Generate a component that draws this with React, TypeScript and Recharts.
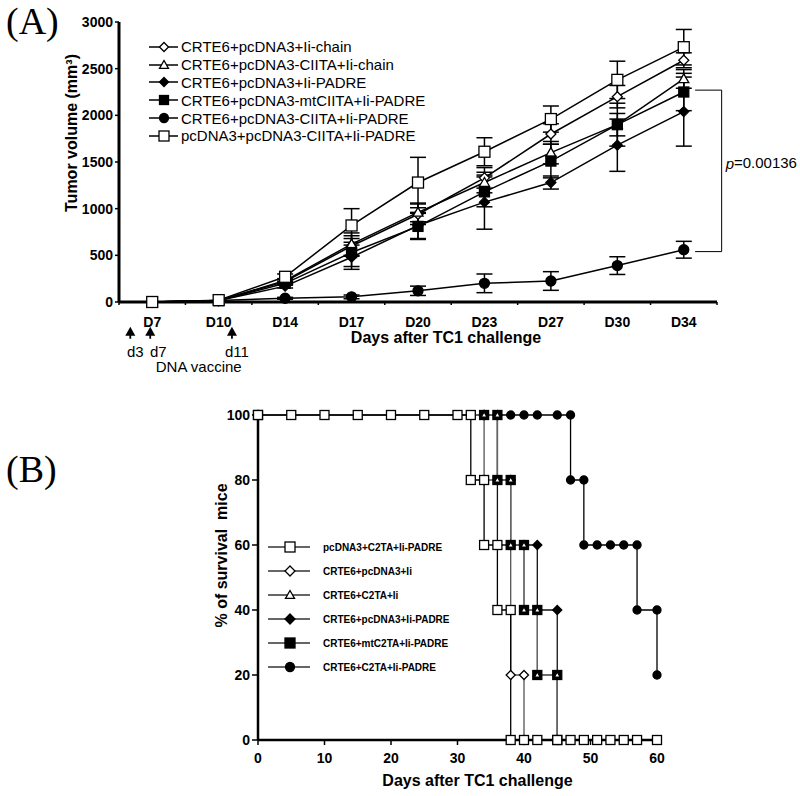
import {
  LineChart,
  Line,
  XAxis,
  YAxis,
  ErrorBar,
  Legend,
  ReferenceLine,
  ReferenceDot,
} from "recharts";

const FONT = "Arial, 'Liberation Sans', Helvetica, sans-serif";
const SERIF = "'Times New Roman', 'Liberation Serif', serif";

// ---- Panel A: tumor volume ----
const DAY_LABELS = ["D7", "D10", "D14", "D17", "D20", "D23", "D27", "D30", "D34"];
const DAY_TICKS = [-0.5, 0, 0.5, 1, 1.5, 2, 2.5, 3, 3.5, 4, 4.5, 5, 5.5, 6, 6.5, 7, 7.5, 8, 8.5];

const A_IICHAIN = [0, 15, 220, 600, 940, 1330, 1800, 2200, 2590];
const A_IICHAIN_ERR = [0, 0, 20, 110, 110, 110, 110, 120, 80];
const A_CIITA_IICHAIN = [0, 15, 230, 620, 960, 1280, 1600, 1900, 2390];
const A_CIITA_IICHAIN_ERR = [0, 0, 20, 120, 100, 110, 120, 120, 100];
const A_IIPADRE = [0, 15, 170, 480, 820, 1070, 1280, 1680, 2040];
const A_IIPADRE_ERR = [0, 0, 20, 130, 140, 290, 70, 280, 370];
const A_MTCIITA = [0, 15, 200, 530, 810, 1180, 1510, 1900, 2250];
const A_MTCIITA_ERR = [0, 0, 20, 150, 140, 160, 180, 230, 200];
const A_CIITA_PADRE = [0, 15, 40, 55, 120, 200, 225, 390, 560];
const A_CIITA_PADRE_ERR = [0, 0, 10, 20, 50, 100, 100, 95, 90];
const A_PCDNA = [0, 20, 270, 820, 1280, 1610, 1960, 2380, 2730];
const A_PCDNA_ERR = [0, 0, 30, 180, 270, 150, 140, 200, 190];

const A_Y_TICKS = [0, 500, 1000, 1500, 2000, 2500, 3000];

// bracket between the two groups at D34
const BRACKET_X = [8.17, 8.57];
const BRACKET_Y = [2270, 540];
const P_TEXT = "=0.00136";

// vaccination arrows under the axis
const VACCINE_DAYS = ["d3", "d7", "d11"];
const VACCINE_AT = [-0.33, -0.03, 1.2];
const VACCINE_TEXT_SHIFT = [5, 8, 5];
const VACCINE_NAME = "DNA vaccine";

// ---- Panel B: survival ----
const B_SQ_DAYS = [0, 5, 10, 15, 20, 25, 30, 32, 32, 34, 34, 36, 36, 38, 38, 40, 42, 45, 47, 49, 51, 53, 55, 57, 60];
const B_SQ_PCT = [100, 100, 100, 100, 100, 100, 100, 100, 80, 80, 60, 60, 40, 40, 0, 0, 0, 0, 0, 0, 0, 0, 0, 0, 0];
const B_DIA_DAYS = [0, 34, 34, 36, 38, 38, 40, 40];
const B_DIA_PCT = [100, 100, 80, 80, 80, 20, 20, 0];
const B_TRI_DAYS = [0, 34, 36, 36, 38, 38, 40, 40, 42, 42, 45, 45];
const B_TRI_PCT = [100, 100, 100, 80, 80, 60, 60, 40, 40, 20, 20, 0];
const B_FDIA_DAYS = [0, 34, 36, 36, 38, 40, 42, 42, 45, 45];
const B_FDIA_PCT = [100, 100, 100, 60, 60, 60, 60, 40, 40, 0];
const B_MT_DAYS = [0, 34, 36, 36, 38, 38, 40, 40, 42, 42, 45, 45];
const B_MT_PCT = [100, 100, 100, 80, 80, 60, 60, 40, 40, 20, 20, 0];
const B_CIRC_DAYS = [0, 34, 36, 38, 40, 42, 45, 47, 47, 49, 49, 51, 53, 55, 57, 57, 60, 60];
const B_CIRC_PCT = [100, 100, 100, 100, 100, 100, 100, 100, 80, 80, 60, 60, 60, 60, 60, 40, 40, 20];

const B_X_TICKS = [0, 10, 20, 30, 40, 50, 60];
const B_Y_TICKS = [0, 20, 40, 60, 80, 100];

type Shape = "square" | "diamond" | "triangle" | "circle";

function Mark({ cx, cy, shape, filled, size }: { cx: number; cy: number; shape: Shape; filled: boolean; size: number }) {
  if (cx == null || cy == null) return null;
  const fill = filled ? "#000" : "#fff";
  const h = size / 2;
  const sw = 1.3;
  if (shape === "square")
    return <rect x={cx - h} y={cy - h} width={size} height={size} fill={fill} stroke="#000" strokeWidth={sw} />;
  if (shape === "diamond")
    return (
      <polygon
        points={`${cx},${cy - h} ${cx + h},${cy} ${cx},${cy + h} ${cx - h},${cy}`}
        fill={fill}
        stroke="#000"
        strokeWidth={sw}
      />
    );
  if (shape === "triangle")
    return (
      <polygon
        points={`${cx},${cy - h} ${cx + h},${cy + h * 0.75} ${cx - h},${cy + h * 0.75}`}
        fill={fill}
        stroke="#000"
        strokeWidth={sw}
      />
    );
  return <circle cx={cx} cy={cy} r={h} fill={fill} stroke="#000" strokeWidth={sw} />;
}

const A_SERIES = [
  { key: "a1", name: "CRTE6+pcDNA3+Ii-chain", values: A_IICHAIN, err: A_IICHAIN_ERR, shape: "diamond" as Shape, filled: false, size: 10 },
  { key: "a2", name: "CRTE6+pcDNA3-CIITA+Ii-chain", values: A_CIITA_IICHAIN, err: A_CIITA_IICHAIN_ERR, shape: "triangle" as Shape, filled: false, size: 10 },
  { key: "a3", name: "CRTE6+pcDNA3+Ii-PADRE", values: A_IIPADRE, err: A_IIPADRE_ERR, shape: "diamond" as Shape, filled: true, size: 10 },
  { key: "a4", name: "CRTE6+pcDNA3-mtCIITA+Ii-PADRE", values: A_MTCIITA, err: A_MTCIITA_ERR, shape: "square" as Shape, filled: true, size: 10 },
  { key: "a5", name: "CRTE6+pcDNA3-CIITA+Ii-PADRE", values: A_CIITA_PADRE, err: A_CIITA_PADRE_ERR, shape: "circle" as Shape, filled: true, size: 10 },
  { key: "a6", name: "pcDNA3+pcDNA3-CIITA+Ii-PADRE", values: A_PCDNA, err: A_PCDNA_ERR, shape: "square" as Shape, filled: false, size: 11 },
];

const A_ROWS = DAY_LABELS.map((_, i) => {
  const row: Record<string, number> = { idx: i };
  A_SERIES.forEach((s) => {
    row[s.key] = s.values[i];
    row[s.key + "e"] = s.err[i];
  });
  return row;
});

const toPoints = (days: number[], pct: number[]) => days.map((d, i) => ({ day: d, pct: pct[i] }));

// legend order
const B_LEGEND = [
  { key: "sq", name: "pcDNA3+C2TA+Ii-PADRE", shape: "square" as Shape, filled: false, size: 9 },
  { key: "dia", name: "CRTE6+pcDNA3+Ii", shape: "diamond" as Shape, filled: false, size: 9 },
  { key: "tri", name: "CRTE6+C2TA+Ii", shape: "triangle" as Shape, filled: false, size: 8 },
  { key: "fdia", name: "CRTE6+pcDNA3+Ii-PADRE", shape: "diamond" as Shape, filled: true, size: 9 },
  { key: "mt", name: "CRTE6+mtC2TA+Ii-PADRE", shape: "square" as Shape, filled: true, size: 9 },
  { key: "circ", name: "CRTE6+C2TA+Ii-PADRE", shape: "circle" as Shape, filled: true, size: 8 },
];

// drawing order (open squares on top, triangles over the black squares)
const B_SERIES = [
  { key: "circ", data: toPoints(B_CIRC_DAYS, B_CIRC_PCT), shape: "circle" as Shape, filled: true, size: 8, color: "#000" },
  { key: "fdia", data: toPoints(B_FDIA_DAYS, B_FDIA_PCT), shape: "diamond" as Shape, filled: true, size: 9, color: "#111" },
  { key: "dia", data: toPoints(B_DIA_DAYS, B_DIA_PCT), shape: "diamond" as Shape, filled: false, size: 9, color: "#555" },
  { key: "mt", data: toPoints(B_MT_DAYS, B_MT_PCT), shape: "square" as Shape, filled: true, size: 9, color: "#666" },
  { key: "tri", data: toPoints(B_TRI_DAYS, B_TRI_PCT), shape: "triangle" as Shape, filled: false, size: 6, color: "#666" },
  { key: "sq", data: toPoints(B_SQ_DAYS, B_SQ_PCT), shape: "square" as Shape, filled: false, size: 9, color: "#000" },
];

// offsets use custom prop names so Recharts' Label defaults do not override them
function AxisTitle(props: any) {
  const { viewBox, text, ox = 0, oy = 0, rot = 0, size = 16 } = props;
  if (!viewBox) return null;
  const cx = viewBox.x + viewBox.width / 2 + ox;
  const cy = viewBox.y + viewBox.height / 2 + oy;
  return (
    <text
      x={cx}
      y={cy}
      textAnchor="middle"
      dominantBaseline="central"
      transform={rot ? `rotate(${rot} ${cx} ${cy})` : undefined}
      style={{ whiteSpace: "pre" }}
      fontFamily={FONT}
      fontWeight="bold"
      fontSize={size}
      fill="#000"
    >
      {text}
    </text>
  );
}

function DayTick(props: any) {
  const { x, y, payload } = props;
  const v = payload.value;
  if (Number.isInteger(v)) {
    return (
      <text x={x} y={y + 25} textAnchor="middle" fontFamily={FONT} fontWeight="bold" fontSize={14} fill="#000">
        {DAY_LABELS[v]}
      </text>
    );
  }
  return <line x1={x} x2={x} y1={y} y2={y + 3} stroke="#000" strokeWidth={1.5} />;
}

function PLabel(props: any) {
  const { viewBox } = props;
  if (!viewBox) return null;
  return (
    <text
      x={viewBox.x + 4}
      y={viewBox.y + viewBox.height / 2 - 8}
      dominantBaseline="central"
      fontFamily={FONT}
      fontSize={15}
      fill="#000"
    >
      <tspan fontStyle="italic">p</tspan>
      {P_TEXT}
    </text>
  );
}

function VaccineArrow(props: any) {
  const { cx, cy, text, shift } = props;
  return (
    <g>
      <polygon points={`${cx},${cy} ${cx - 5},${cy + 9} ${cx + 5},${cy + 9}`} fill="#000" />
      <line x1={cx} x2={cx} y1={cy + 8} y2={cy + 12} stroke="#000" strokeWidth={1.8} />
      <text x={cx + shift} y={cy + 30} textAnchor="middle" fontFamily={FONT} fontSize={15} fill="#000">
        {text}
      </text>
    </g>
  );
}

function VaccineName(props: any) {
  const { cx, cy } = props;
  return (
    <text x={cx} y={cy + 45} textAnchor="middle" fontFamily={FONT} fontSize={15} fill="#000">
      {VACCINE_NAME}
    </text>
  );
}

function LegendA() {
  return (
    <div style={{ fontFamily: FONT, fontSize: 15, color: "#000" }}>
      {A_SERIES.map((s) => (
        <div key={s.key} style={{ display: "flex", alignItems: "center", height: 17.8 }}>
          <svg width={32} height={14} style={{ display: "block" }}>
            <line x1={0} x2={29} y1={7} y2={7} stroke="#000" strokeWidth={1.5} />
            <Mark cx={15} cy={7} shape={s.shape} filled={s.filled} size={s.size - 1} />
          </svg>
          <span style={{ whiteSpace: "nowrap" }}>{s.name}</span>
        </div>
      ))}
    </div>
  );
}

function LegendB() {
  return (
    <div style={{ fontFamily: FONT, fontSize: 10, fontWeight: "bold", color: "#000" }}>
      {B_LEGEND.map((s) => (
        <div key={s.key} style={{ display: "flex", alignItems: "center", height: 24 }}>
          <svg width={55} height={14} style={{ display: "block" }}>
            <line x1={0} x2={42} y1={7} y2={7} stroke="#333" strokeWidth={1.3} />
            <Mark cx={22} cy={7} shape={s.shape} filled={s.filled} size={s.size + 1} />
          </svg>
          <span style={{ whiteSpace: "nowrap" }}>{s.name}</span>
        </div>
      ))}
    </div>
  );
}

function PanelA() {
  return (
    <LineChart width={800} height={380} data={A_ROWS} margin={{ top: 22, right: 83, left: 0, bottom: 0 }}>
      <XAxis
        dataKey="idx"
        type="number"
        domain={[-0.5, 8.5]}
        ticks={DAY_TICKS}
        interval={0}
        height={78}
        tickLine={false}
        tickSize={0}
        tickMargin={0}
        tick={<DayTick />}
        axisLine={{ stroke: "#000", strokeWidth: 3 }}
        label={<AxisTitle text="Days after TC1 challenge" ox={28} oy={-4} size={16} />}
      />
      <YAxis
        domain={[0, 3000]}
        ticks={A_Y_TICKS}
        interval={0}
        width={119}
        tickSize={4}
        tickMargin={2}
        tickLine={{ stroke: "#000", strokeWidth: 1.5 }}
        axisLine={{ stroke: "#000", strokeWidth: 3 }}
        tick={{ fill: "#000", fontSize: 14, fontWeight: "bold", fontFamily: FONT }}
        label={<AxisTitle text="Tumor volume (mm³)" rot={-90} ox={12} oy={-29} size={16} />}
      />
      <Legend
        layout="vertical"
        align="center"
        verticalAlign="middle"
        content={() => <LegendA />}
        wrapperStyle={{ top: 38, left: 149, width: "auto" }}
      />
      {A_SERIES.map((s) => (
        <Line
          key={s.key}
          dataKey={s.key}
          name={s.name}
          type="linear"
          stroke="#000"
          strokeWidth={1.5}
          isAnimationActive={false}
          activeDot={false}
          dot={(p: any) => <Mark key={`${s.key}-${p.index}`} cx={p.cx} cy={p.cy} shape={s.shape} filled={s.filled} size={s.size} />}
        >
          <ErrorBar dataKey={s.key + "e"} direction="y" width={8} stroke="#000" strokeWidth={1.5} isAnimationActive={false} />
        </Line>
      ))}
      <ReferenceLine
        segment={[{ x: BRACKET_X[0], y: BRACKET_Y[0] }, { x: BRACKET_X[1], y: BRACKET_Y[0] }]}
        stroke="#000"
        strokeWidth={1}
        ifOverflow="visible"
      />
      <ReferenceLine
        segment={[{ x: BRACKET_X[1], y: BRACKET_Y[0] }, { x: BRACKET_X[1], y: BRACKET_Y[1] }]}
        stroke="#000"
        strokeWidth={1}
        ifOverflow="visible"
        label={<PLabel />}
      />
      <ReferenceLine
        segment={[{ x: BRACKET_X[0], y: BRACKET_Y[1] }, { x: BRACKET_X[1], y: BRACKET_Y[1] }]}
        stroke="#000"
        strokeWidth={1}
        ifOverflow="visible"
      />
      {VACCINE_DAYS.map((d, i) => (
        <ReferenceDot
          key={d}
          x={VACCINE_AT[i]}
          y={-265}
          ifOverflow="visible"
          shape={(p: any) => <VaccineArrow cx={p.cx} cy={p.cy} text={d} shift={VACCINE_TEXT_SHIFT[i]} />}
        />
      ))}
      <ReferenceDot x={0.7} y={-265} ifOverflow="visible" shape={(p: any) => <VaccineName cx={p.cx} cy={p.cy} />} />
    </LineChart>
  );
}

function PanelB() {
  return (
    <LineChart width={800} height={416} margin={{ top: 35, right: 143, left: 0, bottom: 0 }}>
      <XAxis
        dataKey="day"
        type="number"
        domain={[0, 60]}
        ticks={B_X_TICKS}
        interval={0}
        height={56}
        tickSize={5}
        tickMargin={8}
        tickLine={{ stroke: "#000", strokeWidth: 1.5 }}
        axisLine={{ stroke: "#000", strokeWidth: 2.5 }}
        tick={{ fill: "#000", fontSize: 14, fontWeight: "bold", fontFamily: FONT }}
        label={<AxisTitle text="Days after TC1 challenge" ox={20} oy={12} size={16} />}
      />
      <YAxis
        dataKey="pct"
        domain={[0, 100]}
        ticks={B_Y_TICKS}
        interval={0}
        width={258}
        tickSize={6}
        tickMargin={2}
        tickLine={{ stroke: "#000", strokeWidth: 1.5 }}
        axisLine={{ stroke: "#000", strokeWidth: 2.5 }}
        tick={{ fill: "#000", fontSize: 14, fontWeight: "bold", fontFamily: FONT }}
        label={<AxisTitle text="% of survival  mice" rot={-90} ox={92} oy={-22} size={16} />}
      />
      <Legend
        layout="vertical"
        align="center"
        verticalAlign="middle"
        content={() => <LegendB />}
        wrapperStyle={{ top: 155, left: 268, width: "auto" }}
      />
      {B_SERIES.map((s) => (
        <Line
          key={s.key}
          data={s.data}
          dataKey="pct"
          type="linear"
          stroke={s.color}
          strokeWidth={1.3}
          isAnimationActive={false}
          activeDot={false}
          dot={(p: any) => <Mark key={`${s.key}-${p.index}`} cx={p.cx} cy={p.cy} shape={s.shape} filled={s.filled} size={s.size} />}
        />
      ))}
    </LineChart>
  );
}

export default function App() {
  return (
    <div style={{ position: "absolute", left: 0, top: 0, width: 800, height: 796, background: "#fff" }}>
      <div style={{ position: "absolute", left: 0, top: 0 }}>
        <PanelA />
      </div>
      <div style={{ position: "absolute", left: 0, top: 380 }}>
        <PanelB />
      </div>
      <div style={{ position: "absolute", left: 6, top: 2, fontFamily: SERIF, fontSize: 38, lineHeight: 1 }}>(A)</div>
      <div style={{ position: "absolute", left: 6, top: 450, fontFamily: SERIF, fontSize: 38, lineHeight: 1 }}>(B)</div>
    </div>
  );
}
